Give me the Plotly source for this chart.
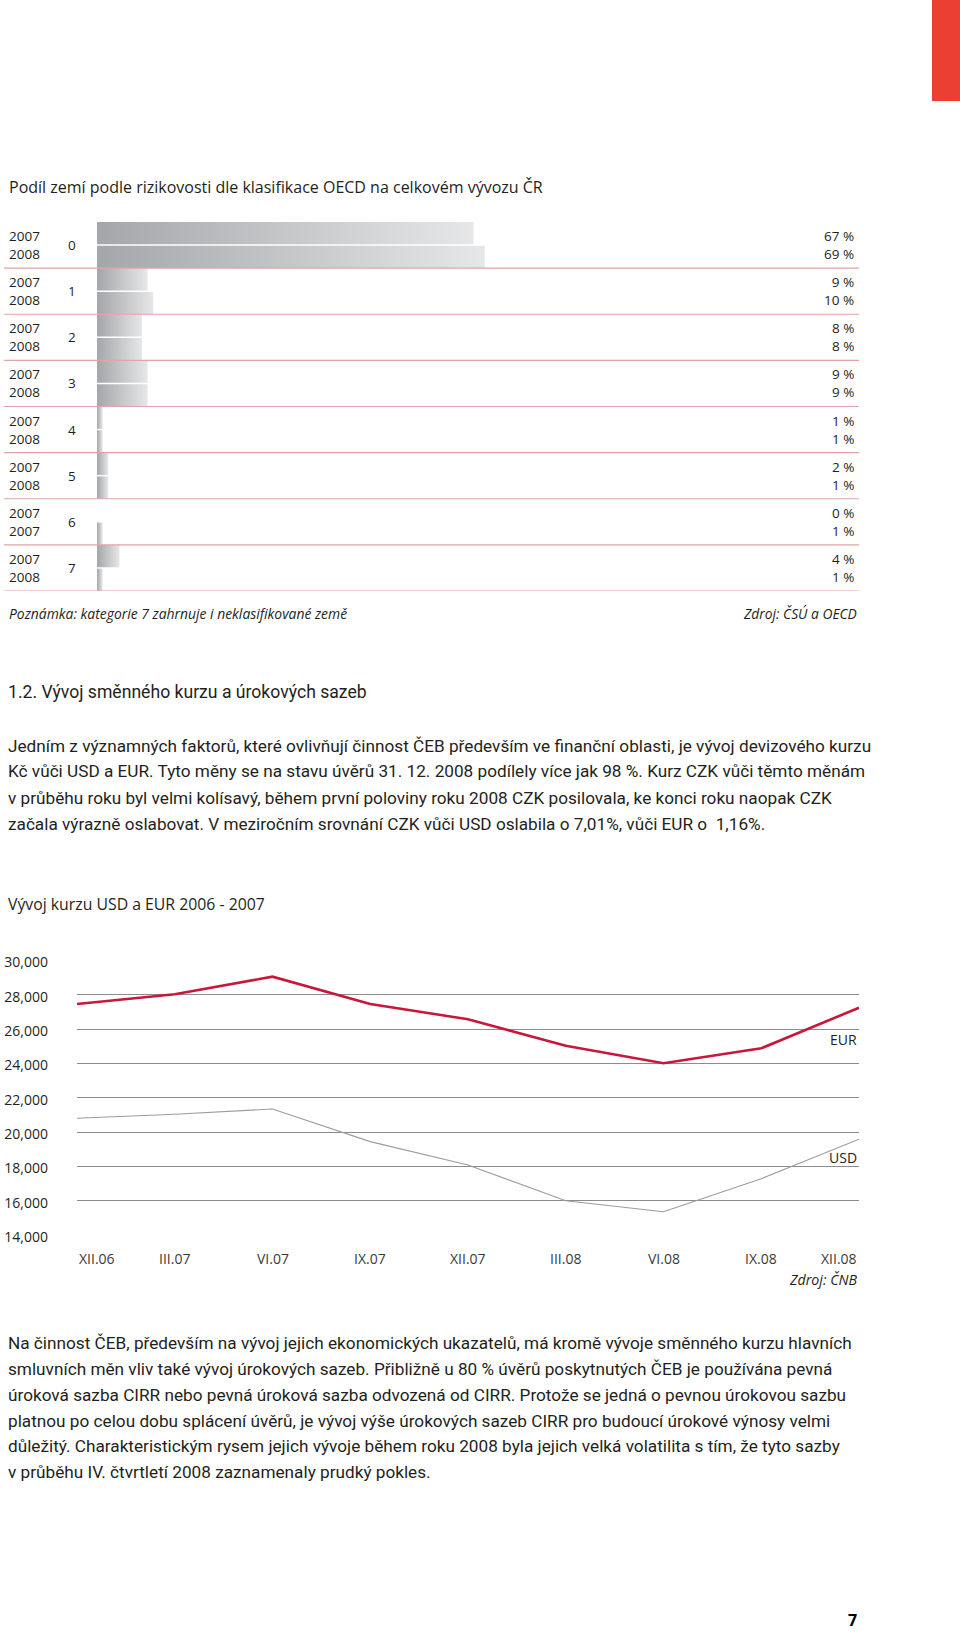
import plotly.graph_objects as go

W, H = 960, 1633
TXT = "#231f20"
SANS = "Open Sans, Noto Sans, sans-serif"
BODY = "Roboto, Lato, sans-serif"

# ---------- data: bar chart ----------
risk_categories = ["0", "1", "2", "3", "4", "5", "6", "7"]
row_years = [["2007", "2008"], ["2007", "2008"], ["2007", "2008"], ["2007", "2008"],
             ["2007", "2008"], ["2007", "2008"], ["2007", "2007"], ["2007", "2008"]]
share_first = [67, 9, 8, 9, 1, 2, 0, 4]      # bar lengths (%) upper row
share_second = [69, 10, 8, 9, 1, 2, 1, 1]    # bar lengths (%) lower row
label_first = ["67 %", "9 %", "8 %", "9 %", "1 %", "2 %", "0 %", "4 %"]
label_second = ["69 %", "10 %", "8 %", "9 %", "1 %", "1 %", "1 %", "1 %"]

# ---------- data: line chart ----------
periods = ["XII.06", "III.07", "VI.07", "IX.07", "XII.07", "III.08", "VI.08", "IX.08", "XII.08"]
eur_czk = [27460, 28020, 29050, 27460, 26570, 25030, 24010, 24880, 27240]
usd_czk = [20810, 21040, 21350, 19450, 18090, 16010, 15370, 17290, 19590]
y_ticks = [14000, 16000, 18000, 20000, 22000, 24000, 26000, 28000, 30000]

para1 = [
    "Jedním z významných faktorů, které ovlivňují činnost ČEB především ve finanční oblasti, je vývoj devizového kurzu",
    "Kč vůči USD a EUR. Tyto měny se na stavu úvěrů 31. 12. 2008 podílely více jak 98 %. Kurz CZK vůči těmto měnám",
    "v průběhu roku byl velmi kolísavý, během první poloviny roku 2008 CZK posilovala, ke konci roku naopak CZK",
    "začala výrazně oslabovat. V meziročním srovnání CZK vůči USD oslabila o 7,01%, vůči EUR o  1,16%.",
]
para2 = [
    "Na činnost ČEB, především na vývoj jejich ekonomických ukazatelů, má kromě vývoje směnného kurzu hlavních",
    "smluvních měn vliv také vývoj úrokových sazeb. Přibližně u 80 % úvěrů poskytnutých ČEB je používána pevná",
    "úroková sazba CIRR nebo pevná úroková sazba odvozená od CIRR. Protože se jedná o pevnou úrokovou sazbu",
    "platnou po celou dobu splácení úvěrů, je vývoj výše úrokových sazeb CIRR pro budoucí úrokové výnosy velmi",
    "důležitý. Charakteristickým rysem jejich vývoje během roku 2008 byla jejich velká volatilita s tím, že tyto sazby",
    "v průběhu IV. čtvrtletí 2008 zaznamenaly prudký pokles.",
]


def py(p):
    return 1 - p / H


def px(p):
    return p / W


fig = go.Figure()
grad = dict(type="horizontal", colorscale=[[0, "#a4a6a9"], [1, "#e6e7e8"]])

n_rows = 2 * len(risk_categories)
for c in range(len(risk_categories)):
    for r, val in enumerate([share_first[c], share_second[c]]):
        if val <= 0:
            continue
        i = 2 * c + r
        y0 = i + (0.0 if r == 0 else 0.03)
        y1 = i + (0.97 if r == 0 else 1.0)
        fig.add_trace(go.Scatter(
            x=[0, val, val, 0, 0], y=[y0, y0, y1, y1, y0],
            mode="lines", line=dict(width=0), fill="toself",
            fillgradient=grad, hoverinfo="skip", showlegend=False,
            xaxis="x", yaxis="y"))

fig.add_trace(go.Scatter(x=list(range(len(periods))), y=eur_czk, mode="lines",
                         line=dict(color="#c8173a", width=2.6), showlegend=False,
                         xaxis="x2", yaxis="y2"))
fig.add_trace(go.Scatter(x=list(range(len(periods))), y=usd_czk, mode="lines",
                         line=dict(color="#9c9c9c", width=1.1), showlegend=False,
                         xaxis="x2", yaxis="y2"))

ann = []
shapes = []

# red tab
shapes.append(dict(type="rect", xref="paper", yref="paper", x0=px(932), x1=1.0,
                   y0=py(101), y1=1.0, fillcolor="#ec3f34", line=dict(width=0)))

# bar chart separators
for c in range(len(risk_categories)):
    shapes.append(dict(type="line", xref="paper", yref="y", x0=px(4), x1=px(859),
                       y0=2 * c + 2, y1=2 * c + 2, line=dict(color="#e3a3a6", width=1.2)))

# bar chart texts
ann.append(dict(text="Podíl zemí podle rizikovosti dle klasifikace OECD na celkovém vývozu ČR",
                xref="paper", yref="paper", x=px(7), y=py(187), xanchor="left", yanchor="middle",
                showarrow=False, font=dict(family=SANS, size=16, color=TXT)))
for c, cat in enumerate(risk_categories):
    yc = 2 * c + 1
    ann.append(dict(text="<br>".join(row_years[c]), xref="paper", yref="y", x=px(7), y=yc,
                    xanchor="left", yanchor="middle", align="left", showarrow=False,
                    font=dict(family=SANS, size=13.5, color=TXT)))
    ann.append(dict(text=cat, xref="paper", yref="y", x=px(72), y=yc, xanchor="center",
                    yanchor="middle", showarrow=False, font=dict(family=SANS, size=13.5, color=TXT)))
    ann.append(dict(text=label_first[c] + "<br>" + label_second[c], xref="paper", yref="y",
                    x=px(856), y=yc, xanchor="right", yanchor="middle", align="right",
                    showarrow=False, font=dict(family=SANS, size=13.5, color=TXT)))
ann.append(dict(text="<i>Poznámka: kategorie 7 zahrnuje i neklasifikované země</i>", xref="paper",
                yref="paper", x=px(7), y=py(614), xanchor="left", yanchor="middle",
                showarrow=False, font=dict(family=SANS, size=13.9, color=TXT)))
ann.append(dict(text="<i>Zdroj: ČSÚ a OECD</i>", xref="paper", yref="paper", x=px(859),
                y=py(613), xanchor="right", yanchor="middle", showarrow=False,
                font=dict(family=SANS, size=13.8, color=TXT)))

# heading & paragraphs
ann.append(dict(text="1.2. Vývoj směnného kurzu a úrokových sazeb", xref="paper", yref="paper",
                x=px(6), y=py(692), xanchor="left", yanchor="middle", showarrow=False,
                font=dict(family=BODY, size=17.6, color=TXT)))
for k, line in enumerate(para1):
    ann.append(dict(text=line, xref="paper", yref="paper", x=px(6), y=py(745.5 + 26 * k),
                    xanchor="left", yanchor="middle", showarrow=False,
                    font=dict(family=BODY, size=17.2, color=TXT)))
for k, line in enumerate(para2):
    ann.append(dict(text=line, xref="paper", yref="paper", x=px(6), y=py(1343.2 + 25.8 * k),
                    xanchor="left", yanchor="middle", showarrow=False,
                    font=dict(family=BODY, size=17.2, color=TXT)))

# line chart texts
ann.append(dict(text="Vývoj kurzu USD a EUR 2006 - 2007", xref="paper", yref="paper", x=px(6),
                y=py(904), xanchor="left", yanchor="middle", showarrow=False,
                font=dict(family=SANS, size=15.8, color=TXT)))
for k, lab in enumerate(periods):
    xa = "left" if k == 0 else ("right" if k == len(periods) - 1 else "center")
    ann.append(dict(text=lab, xref="x2", yref="paper", x=k, y=py(1258), xanchor=xa,
                    yanchor="middle", showarrow=False, font=dict(family=SANS, size=14, color="#3a3a3a")))
ann.append(dict(text="EUR", xref="x2", yref="y2", x=len(periods) - 1, y=25420, xanchor="right",
                yanchor="middle", showarrow=False, font=dict(family=SANS, size=14, color=TXT)))
ann.append(dict(text="USD", xref="x2", yref="y2", x=len(periods) - 1, y=18500, xanchor="right",
                yanchor="middle", showarrow=False, font=dict(family=SANS, size=14, color=TXT)))
ann.append(dict(text="<i>Zdroj: ČNB</i>", xref="paper", yref="paper", x=px(859), y=py(1279),
                xanchor="right", yanchor="middle", showarrow=False,
                font=dict(family=SANS, size=14.2, color=TXT)))

# page number
ann.append(dict(text="<b>7</b>", xref="paper", yref="paper", x=px(852), y=0.0,
                xanchor="center", yanchor="bottom", showarrow=False,
                font=dict(family=SANS, size=16, color="#000000")))

fig.update_layout(
    width=W, height=H, margin=dict(l=0, r=0, t=0, b=0, pad=0, autoexpand=False),
    paper_bgcolor="white", plot_bgcolor="rgba(0,0,0,0)",
    xaxis=dict(domain=[px(97), px(659)], range=[0, 100], visible=False, fixedrange=True,
               automargin=False),
    yaxis=dict(domain=[py(591), py(222)], range=[n_rows, 0], visible=False, fixedrange=True,
               automargin=False),
    xaxis2=dict(domain=[px(77), px(859)], range=[0, len(periods) - 1], visible=False,
                anchor="y2", automargin=False),
    yaxis2=dict(domain=[py(1235.3), py(960.3)], range=[14000, 30000], anchor="x2",
                tickvals=y_ticks, tickformat=",d", showgrid=True, gridcolor="#8c8c8c",
                gridwidth=1.4, zeroline=False, showline=False, ticks="", automargin=False,
                ticklabelstandoff=28, ticklabelshift=2,
                tickfont=dict(family=SANS, size=14, color=TXT)),
    annotations=ann, shapes=shapes, showlegend=False,
)

post = (
    "document.documentElement.style.margin='0';"
    "document.documentElement.style.overflow='hidden';"
    "document.body.style.margin='0';document.body.style.overflow='hidden';"
    "var d=document.getElementById('{plot_id}');"
    "d.style.position='fixed';d.style.top='0px';d.style.left='0px';"
)
fig.write_html("out.html", config={"displayModeBar": False}, post_script=post)
